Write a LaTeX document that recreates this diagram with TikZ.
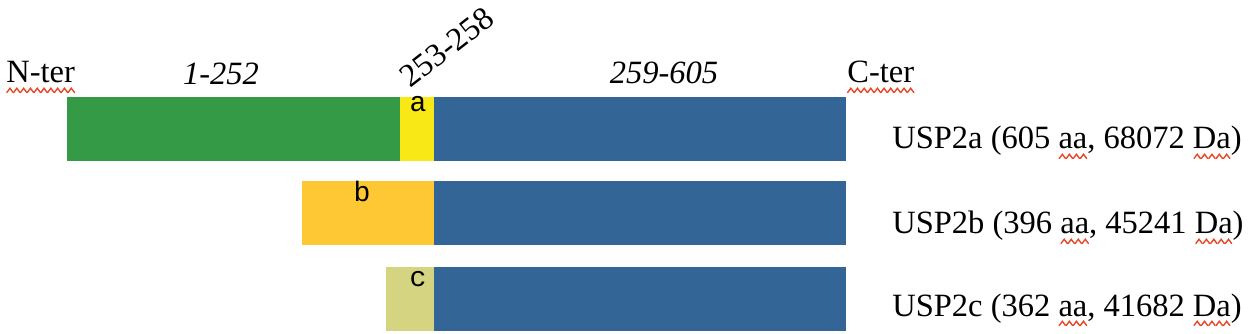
\documentclass[tikz,border=0pt]{standalone}
\usepackage{fontspec}
\setmainfont{Liberation Serif}
\newfontfamily\tagfont{Liberation Mono}
\usepackage{xcolor}
\usetikzlibrary{positioning}

\definecolor{domgreen}{RGB}{52,154,70}
\definecolor{linkyellow}{RGB}{248,233,22}
\definecolor{uspblue}{RGB}{51,101,150}
\definecolor{isoorange}{RGB}{253,200,52}
\definecolor{isokhaki}{RGB}{213,212,128}
\definecolor{wavered}{RGB}{232,72,40}

% red spell-check wave under a word
\newsavebox\wavebox
\sbox\wavebox{\tikz{\useasboundingbox (0,0) rectangle (3.6pt,2.4pt);
  \draw[wavered, line width=0.8pt, line cap=round] (0,0) -- (1.8pt,2.4pt) -- (3.6pt,0);}}
\newcommand\spellmark[1]{\setbox0\hbox{#1}%
  \rlap{\lower5.4pt\hbox to\wd0{\xleaders\copy\wavebox\hfill}}\box0}

\begin{document}
\begin{tikzpicture}[
  x=0.02cm, y=-0.02cm,
  font=\fontsize{18.5}{22}\selectfont,
  seg/.style={fill=#1, inner sep=0pt, outer sep=0pt, minimum height=1.28cm, anchor=north west},
  tag/.style={font=\tagfont\fontsize{16}{18}\selectfont, inner sep=0pt, anchor=base},
  lbl/.style={inner sep=0pt, anchor=base west},
  rng/.style={inner sep=0pt, anchor=base, font=\fontsize{18.5}{22}\selectfont\itshape}
]
\useasboundingbox (0,0) rectangle (1250,334);
% USP2a
\node[seg=domgreen, minimum width=6.66cm] (ng) at (67,97) {};
\node[seg=linkyellow, minimum width=0.68cm, right=0pt of ng] (la) {};
\node[seg=uspblue, minimum width=8.24cm, right=0pt of la] (ca) {};
% USP2b, USP2c
\node[seg=isoorange, minimum width=2.64cm] (nb) at (302,181) {};
\node[seg=uspblue, minimum width=8.24cm, right=0pt of nb] (cb) {};
\node[seg=isokhaki, minimum width=0.96cm] (nc) at (386,267) {};
\node[seg=uspblue, minimum width=8.24cm, right=0pt of nc] (cc) {};
\node[tag] (ta) at (418,112) {a};
\node[tag] (tb) at (362,202) {b};
\node[tag] (tc) at (418,286) {c};
% header
\node[lbl] (nter) at (6,83) {\spellmark{N-ter}};
\node[rng] (r1) at (221,85) {1-252};
\node[inner sep=0pt, rotate=38] (r2) at (447,47) {253-258};
\node[rng] (r3) at (664,84) {259-605};
\node[lbl] (cter) at (847,83) {\spellmark{C-ter}};
% isoform names
\node[lbl] (ia) at (892,149) {USP2a (605 \spellmark{aa}, 68072 \spellmark{Da})};
\node[lbl] (ib) at (892,234) {USP2b (396 \spellmark{aa}, 45241 \spellmark{Da})};
\node[lbl] (ic) at (892,316) {USP2c (362 \spellmark{aa}, 41682 \spellmark{Da})};
\end{tikzpicture}
\end{document}
